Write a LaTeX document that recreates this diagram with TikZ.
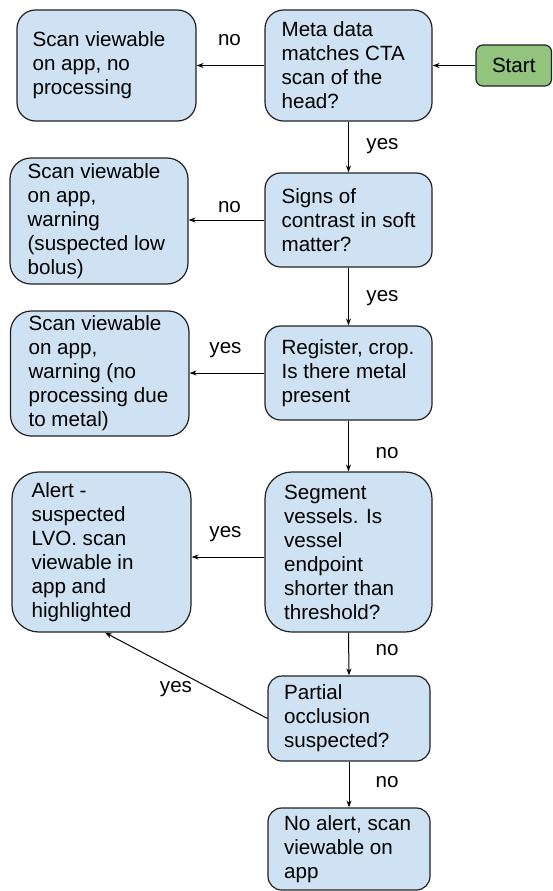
\documentclass[tikz,border=0pt]{standalone}
\usepackage{fontspec}
\setmainfont{Liberation Sans}
\usetikzlibrary{arrows.meta}
\definecolor{boxblue}{HTML}{CFE2F3}
\definecolor{boxgreen}{HTML}{93C47D}
\definecolor{edgecol}{HTML}{222222}
\begin{document}
\begin{tikzpicture}[x=1pt,y=-1pt,
  box/.style={draw=edgecol, line width=1.2pt, fill=boxblue, rounded corners=#1, inner sep=0pt},
  txt/.style={font=\fontsize{20.6}{24}\selectfont, align=left, inner sep=0pt, anchor=west, text=black},
  lbl/.style={font=\fontsize{20.6}{24}\selectfont, inner sep=0pt, anchor=base, text=black},
  conn/.style={draw=black, line width=1pt, -{Stealth[length=7pt,width=5pt]}}]
\useasboundingbox (0,0) rectangle (552,891);
% boxes
\node[box=18.5pt, minimum width=179pt, minimum height=111pt] (A) at (106.5,65.5) {};
\node[box=18.5pt, minimum width=167pt, minimum height=111pt] (B) at (348.5,65.5) {};
\node[box=6.8pt, fill=boxgreen, minimum width=75.5pt, minimum height=41pt] (S) at (513.75,65.5) {};
\node[box=15.7pt, minimum width=167pt, minimum height=94pt] (C) at (348.5,220) {};
\node[box=21pt, minimum width=178pt, minimum height=126pt] (D) at (99,221) {};
\node[box=15.7pt, minimum width=167pt, minimum height=94pt] (E) at (348.5,373) {};
\node[box=20.8pt, minimum width=178.5pt, minimum height=125pt] (F) at (99.75,373.5) {};
\node[box=26.7pt, minimum width=167pt, minimum height=160pt] (G) at (348.5,552) {};
\node[box=26.7pt, minimum width=179pt, minimum height=160pt] (H) at (101.5,552) {};
\node[box=14pt, minimum width=162pt, minimum height=85pt] (I) at (349,718.5) {};
\node[box=13.7pt, minimum width=162pt, minimum height=82pt] (J) at (349,849) {};
% texts
\node[txt] (At) at ([xshift=16pt]A.west) {Scan viewable\\on app, no\\processing};
\node[txt] (Bt) at ([xshift=17pt]B.west) {Meta data\\matches CTA\\scan of the\\head?};
\node[txt, anchor=center] (St) at (S.center) {Start};
\node[txt] (Ct) at ([xshift=17pt]C.west) {Signs of\\contrast in soft\\matter?};
\node[txt] (Dt) at ([xshift=18pt]D.west) {Scan viewable\\on app,\\warning\\(suspected low\\bolus)};
\node[txt] (Et) at ([xshift=17pt]E.west) {Register, crop.\\Is there metal\\present};
\node[txt] (Ft) at ([xshift=18.5pt]F.west) {Scan viewable\\on app,\\warning (no\\processing due\\to metal)};
\node[txt] (Gt) at ([xshift=19.5pt]G.west) {Segment\\vessels. Is\\vessel\\endpoint\\shorter than\\threshold?};
\node[txt] (Ht) at ([xshift=20pt]H.west) {Alert -\\suspected\\LVO. scan\\viewable in\\app and\\highlighted};
\node[txt] (It) at ([xshift=16.5pt]I.west) {Partial\\occlusion\\suspected?};
\node[txt] (Jt) at ([xshift=16.5pt]J.west) {No alert, scan\\viewable on\\app};
% connectors
\draw[conn] (S.west) -- (B.east);
\draw[conn] (B.west) -- (A.east);
\draw[conn] (B.south) -- (C.north);
\draw[conn] (C.west) -- (C.west -| D.east);
\draw[conn] (C.south) -- (E.north);
\draw[conn] (E.west) -- (E.west -| F.east);
\draw[conn] (E.south) -- (G.north);
\draw[conn] ([yshift=-5pt]G.west) -- ([yshift=-5pt]H.east);
\draw[conn] (G.south) -- (I.north);
\draw[conn] (I.west) -- ([xshift=3.5pt]H.south);
\draw[conn] (I.south) -- (J.north);
% labels
\node[lbl] (l1) at (229.5,45.5) {no};
\node[lbl] (l2) at (382.5,149) {yes};
\node[lbl] (l3) at (229.5,212) {no};
\node[lbl] (l4) at (382.5,301) {yes};
\node[lbl] (l5) at (225.5,353) {yes};
\node[lbl] (l6) at (387,458) {no};
\node[lbl] (l7) at (225.5,537) {yes};
\node[lbl] (l8) at (387,655.5) {no};
\node[lbl] (l9) at (176,692) {yes};
\node[lbl] (l10) at (387,787) {no};
\end{tikzpicture}
\end{document}
